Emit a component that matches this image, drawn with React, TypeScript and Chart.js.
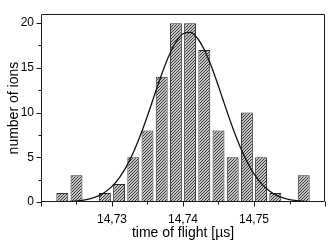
import React, { useEffect, useRef } from 'react';
import { Chart, registerables } from 'chart.js';
Chart.register(...registerables);

// histogram bins (centers, µs) and counts
const binCenters = [14.723, 14.725, 14.727, 14.729, 14.731, 14.733, 14.735, 14.737, 14.739, 14.741, 14.743, 14.745, 14.747, 14.749, 14.751, 14.753, 14.755, 14.757];
const counts = [1, 3, 0, 1, 2, 5, 8, 14, 20, 20, 17, 8, 5, 10, 5, 1, 0, 3];

// fitted curve
const fitX = [14.724, 14.725, 14.726, 14.727, 14.728, 14.729, 14.73, 14.731, 14.732, 14.733, 14.734, 14.735, 14.736, 14.737, 14.738, 14.739, 14.74, 14.741, 14.742, 14.743, 14.744, 14.745, 14.746, 14.747, 14.748, 14.749, 14.75, 14.751, 14.752, 14.753, 14.754, 14.755, 14.756, 14.757, 14.758];
const fitY = [0.06, 0.11, 0.21, 0.38, 0.66, 1.1, 1.75, 2.68, 3.93, 5.53, 7.46, 9.65, 11.99, 14.29, 16.32, 17.89, 18.81, 18.96, 18.34, 17.02, 15.15, 12.93, 10.58, 8.31, 6.26, 4.52, 3.14, 2.09, 1.33, 0.81, 0.48, 0.27, 0.15, 0.08, 0.04];

const xMajorTicks = [14.72, 14.73, 14.74, 14.75, 14.76];
const xLabelTicks = [14.73, 14.74, 14.75];
const xMinorTicks = [14.725, 14.735, 14.745, 14.755];
const yMajorTicks = [0, 5, 10, 15, 20];
const yMinorTicks = [2.5, 7.5, 12.5, 17.5];

const xTitle = 'time of flight [µs]';
const yTitle = 'number of ions';
const FONT = '"Liberation Sans", Arial, sans-serif';

function makePattern(): CanvasPattern | string {
  const c = document.createElement('canvas');
  c.width = 3;
  c.height = 3;
  const g = c.getContext('2d');
  if (!g) return '#a0a0a0';
  g.fillStyle = '#c4c4c4';
  g.fillRect(0, 0, 3, 3);
  g.fillStyle = '#3a3a3a';
  g.fillRect(0, 2, 1, 1);
  g.fillRect(1, 1, 1, 1);
  g.fillRect(2, 0, 1, 1);
  const p = g.createPattern(c, 'repeat');
  return p || '#a0a0a0';
}

const framePlugin = {
  id: 'frameTicks',
  afterDatasetsDraw(chart: any) {
    const { ctx, chartArea } = chart;
    const xs = chart.scales.x;
    const ys = chart.scales.y;
    const L = Math.round(chartArea.left) + 0.5;
    const R = Math.round(chartArea.right) - 0.5;
    const T = Math.round(chartArea.top) + 0.5;
    const B = Math.round(chartArea.bottom) - 0.5;
    ctx.save();
    ctx.strokeStyle = '#1a1a1a';
    ctx.lineWidth = 1;
    ctx.beginPath();
    ctx.rect(L, T, R - L, B - T);
    ctx.stroke();
    ctx.beginPath();
    const xt = (v: number, len: number) => {
      const px = Math.round(xs.getPixelForValue(v)) + 0.5;
      ctx.moveTo(px, B);
      ctx.lineTo(px, B + len);
    };
    const yt = (v: number, len: number) => {
      const py = Math.round(ys.getPixelForValue(v)) + 0.5;
      ctx.moveTo(L, py);
      ctx.lineTo(L - len, py);
    };
    xMajorTicks.forEach((v) => xt(v, 5));
    xMinorTicks.forEach((v) => xt(v, 3));
    yMajorTicks.forEach((v) => yt(v, 5));
    yMinorTicks.forEach((v) => yt(v, 3));
    ctx.stroke();
    ctx.restore();
  },
};

export default function App() {
  const ref = useRef<HTMLCanvasElement | null>(null);
  useEffect(() => {
    if (!ref.current) return;
    const pattern = makePattern();
    const chart = new Chart(ref.current, {
      type: 'bar',
      data: {
        datasets: [
          {
            type: 'line',
            data: fitX.map((x, i) => ({ x, y: fitY[i] })),
            borderColor: '#111',
            borderWidth: 1.3,
            pointRadius: 0,
            cubicInterpolationMode: 'monotone',
            fill: false,
          } as any,
          {
            type: 'bar',
            data: binCenters.map((x, i) => ({ x, y: counts[i] })),
            backgroundColor: pattern as any,
            borderColor: '#2a2a2a',
            borderWidth: 1,
            borderSkipped: false,
            barPercentage: 0.84,
            categoryPercentage: 1,
          } as any,
        ],
      },
      options: {
        responsive: false,
        animation: false,
        devicePixelRatio: 1,
        layout: { padding: { top: 4, right: 7, left: 0, bottom: 0 } },
        plugins: { legend: { display: false }, tooltip: { enabled: false } },
        scales: {
          x: {
            type: 'linear',
            min: 14.72,
            max: 14.76,
            offset: false,
            grid: { display: false, drawTicks: false },
            border: { display: false },
            afterBuildTicks: (s: any) => {
              s.ticks = xLabelTicks.map((v) => ({ value: v }));
            },
            afterFit: (s: any) => {
              s.height = 40;
            },
            ticks: {
              autoSkip: false,
              maxRotation: 0,
              padding: 10,
              color: '#000',
              font: { family: FONT, size: 12 },
              callback: (v: any) => Number(v).toFixed(2).replace('.', ','),
            },
            title: {
              display: true,
              text: xTitle,
              color: '#000',
              font: { family: FONT, size: 14 },
              padding: { top: 0, bottom: 0 },
            },
          },
          y: {
            type: 'linear',
            min: 0,
            max: 21,
            grid: { display: false, drawTicks: false },
            border: { display: false },
            afterBuildTicks: (s: any) => {
              s.ticks = yMajorTicks.map((v) => ({ value: v }));
            },
            afterFit: (s: any) => {
              s.width = 41;
            },
            ticks: {
              padding: 7,
              color: '#000',
              font: { family: FONT, size: 12 },
            },
            title: {
              display: true,
              text: yTitle,
              color: '#000',
              font: { family: FONT, size: 14 },
              padding: { top: 6, bottom: 0 },
            },
          },
        },
      },
      plugins: [framePlugin],
    });
    return () => chart.destroy();
  }, []);
  return (
    <div style={{ position: 'fixed', left: 0, top: 0, width: 332, height: 242, background: '#fff' }}>
      <canvas ref={ref} width={332} height={242} style={{ width: 332, height: 242, display: 'block' }} />
    </div>
  );
}
